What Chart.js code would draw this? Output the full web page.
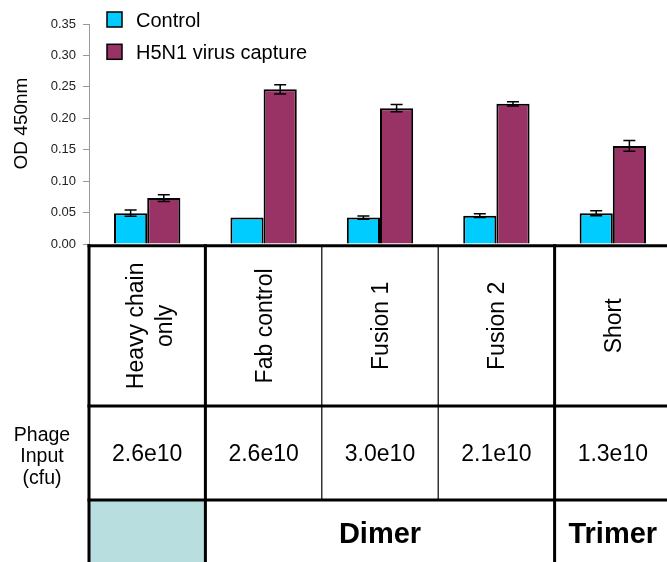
<!DOCTYPE html>
<html>
<head>
<meta charset="utf-8">
<script src="https://cdn.jsdelivr.net/npm/chart.js@4/dist/chart.umd.min.js"></script>
<style>
  html, body { margin: 0; padding: 0; background: #fff; overflow: hidden; }
  canvas { display: block; }
</style>
</head>
<body>
<canvas id="c" width="671" height="562"></canvas>
<script>
// Constructs tested, one column each
const categories = [['Heavy chain', 'only'], ['Fab control'], ['Fusion 1'], ['Fusion 2'], ['Short']];
// Phage input per construct (cfu)
const phageInput = ['2.6e10', '2.6e10', '3.0e10', '2.1e10', '1.3e10'];
// OD 450nm readings and their error bars
const controlOD = [0.049, 0.042, 0.042, 0.045, 0.049];
const controlErr = [0.005, 0, 0.0025, 0.003, 0.004];
const captureOD = [0.073, 0.246, 0.216, 0.223, 0.156];
const captureErr = [0.0053, 0.0072, 0.0058, 0.0035, 0.0085];
// Y axis tick range
const yMin = 0, yMax = 0.35, yStep = 0.05;
// Format groups across the bottom row (column index ranges)
const groupNames = ['', 'Dimer', 'Trimer'];
const groupFrom = [0, 1, 4];
const groupTo = [0, 3, 4];

const FONT = "'Liberation Sans', Arial, sans-serif";

const decorPlugin = {
  id: 'decor',
  afterDatasetsDraw(chart) {
    // error bars
    const ctx = chart.ctx, y = chart.scales.y;
    ctx.save();
    ctx.strokeStyle = '#000';
    ctx.lineWidth = 1.5;
    chart.data.datasets.forEach((ds, d) => {
      const meta = chart.getDatasetMeta(d);
      meta.data.forEach((bar, i) => {
        const e = ds.errors[i];
        if (!e) return;
        const v = ds.data[i];
        const top = y.getPixelForValue(v + e), bot = y.getPixelForValue(v - e);
        const cx = bar.x, hw = 6;
        ctx.beginPath();
        ctx.moveTo(cx, top); ctx.lineTo(cx, bot);
        ctx.moveTo(cx - hw, top); ctx.lineTo(cx + hw, top);
        ctx.moveTo(cx - hw, bot); ctx.lineTo(cx + hw, bot);
        ctx.stroke();
      });
    });
    ctx.restore();
  },
  afterDraw(chart) {
    const ctx = chart.ctx, x = chart.scales.x, ca = chart.chartArea;
    const n = chart.data.labels.length;
    const cw = x.width / n;
    const colL = i => x.getPixelForValue(i) - cw / 2;
    const colC = i => x.getPixelForValue(i);
    const W = chart.width, H = chart.height;
    const rowTop = ca.bottom + 1.7, row1 = 406, row2 = 500;

    ctx.save();
    // shaded cell for groups without a name
    groupNames.forEach((g, k) => {
      if (g) return;
      ctx.fillStyle = '#b8dee0';
      ctx.fillRect(colL(groupFrom[k]), row2, colL(groupTo[k] + 1) - colL(groupFrom[k]), H - row2);
    });

    // thin column dividers inside a group
    ctx.strokeStyle = '#000';
    ctx.lineWidth = 1.2;
    const groupStarts = groupFrom.concat([n]);
    for (let i = 0; i <= n; i++) {
      if (groupStarts.includes(i)) continue;
      ctx.beginPath();
      ctx.moveTo(colL(i), rowTop); ctx.lineTo(colL(i), row2);
      ctx.stroke();
    }
    // thick group dividers
    ctx.lineWidth = 3;
    groupStarts.forEach(i => {
      ctx.beginPath();
      ctx.moveTo(colL(i), rowTop - 1.5); ctx.lineTo(colL(i), H);
      ctx.stroke();
    });
    // thick row lines
    [rowTop, row1, row2].forEach(ry => {
      ctx.beginPath();
      ctx.moveTo(ca.left - 1.5, ry); ctx.lineTo(W, ry);
      ctx.stroke();
    });

    ctx.fillStyle = '#000';
    // rotated construct names
    ctx.font = '23px ' + FONT;
    ctx.textAlign = 'center';
    ctx.textBaseline = 'alphabetic';
    chart.data.labels.forEach((lines, i) => {
      const m = lines.length, gap = 28.7;
      ctx.save();
      ctx.translate(0, (rowTop + row1) / 2);
      ctx.rotate(-Math.PI / 2);
      lines.forEach((t, k) => {
        const base = colC(i) + 8 + (k - (m - 1) / 2) * gap + (m > 1 ? 2.4 : 0);
        ctx.fillText(t, 0, base);
      });
      ctx.restore();
    });

    // phage input row
    ctx.font = '23px ' + FONT;
    phageInput.forEach((t, i) => ctx.fillText(t, colC(i), 461));
    ctx.font = '19.5px ' + FONT;
    ['Phage', 'Input', '(cfu)'].forEach((t, k) => ctx.fillText(t, 42, 440.5 + k * 21.5));

    // format group names
    ctx.font = 'bold 29px ' + FONT;
    groupNames.forEach((g, k) => {
      if (!g) return;
      const cx = (colL(groupFrom[k]) + colL(groupTo[k] + 1)) / 2;
      ctx.fillText(g, cx, 543);
    });

    // y axis title
    ctx.save();
    ctx.font = '19px ' + FONT;
    ctx.translate(26.5, 123.5);
    ctx.rotate(-Math.PI / 2);
    ctx.fillText('OD 450nm', 0, 0);
    ctx.restore();

    // legend
    ctx.font = '20px ' + FONT;
    ctx.textAlign = 'left';
    chart.data.datasets.forEach((ds, d) => {
      const ty = 12 + d * 32.3;
      ctx.fillStyle = ds.backgroundColor;
      ctx.fillRect(107, ty, 15, 15);
      ctx.lineWidth = 1.5;
      ctx.strokeStyle = '#000';
      ctx.strokeRect(107, ty, 15, 15);
      ctx.fillStyle = '#000';
      ctx.fillText(ds.label, 136, ty + 15);
    });
    ctx.restore();
  }
};

new Chart(document.getElementById('c'), {
  type: 'bar',
  data: {
    labels: categories,
    datasets: [
      { label: 'Control', data: controlOD, errors: controlErr,
        backgroundColor: '#00CCFF', borderColor: '#000', borderWidth: 2 },
      { label: 'H5N1 virus capture', data: captureOD, errors: captureErr,
        backgroundColor: '#993366', borderColor: '#000', borderWidth: 2 }
    ]
  },
  options: {
    responsive: false,
    animation: false,
    layout: { padding: { top: 24, bottom: 318, left: 0, right: 0 } },
    datasets: { bar: { categoryPercentage: 0.57, barPercentage: 1 } },
    plugins: { legend: { display: false }, tooltip: { enabled: false } },
    scales: {
      x: { display: false },
      y: {
        min: yMin, max: yMax,
        ticks: {
          stepSize: yStep,
          callback: v => v.toFixed(2),
          font: { family: FONT, size: 13 },
          color: '#222',
          padding: 7
        },
        grid: { drawOnChartArea: false, drawTicks: true, tickLength: 6, color: '#999' },
        border: { display: true, color: '#999' },
        afterFit(s) { s.width = 89; }
      }
    }
  },
  plugins: [decorPlugin]
});
</script>
</body>
</html>
